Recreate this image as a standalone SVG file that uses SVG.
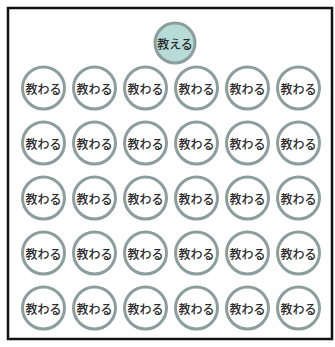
<svg xmlns="http://www.w3.org/2000/svg" width="335" height="347" viewBox="0 0 335 347">
<style>
.c{fill:#ffffff;stroke:#8b9d9c;stroke-width:3}
.t .c{fill:#b7dcd8}
text{font-family:"Noto Sans CJK JP","Noto Sans CJK SC",sans-serif;font-size:12px;font-weight:500;fill:#2a2a2a;text-anchor:middle;dominant-baseline:central}
</style>
<rect x="0" y="0" width="335" height="347" fill="#fff"/>
<rect x="8" y="8" width="324" height="331" fill="#fff" stroke="#111" stroke-width="2.5"/>
<g id="teacher" class="t"><circle class="c" cx="175" cy="43" r="20"/><text x="175" y="43">教える</text></g>
<g id="connectors"/>
<g id="r1c1"><circle class="c" cx="43.5" cy="88" r="21"/><text x="43.5" y="88">教わる</text></g>
<g id="r1c2"><circle class="c" cx="94.5" cy="88" r="21"/><text x="94.5" y="88">教わる</text></g>
<g id="r1c3"><circle class="c" cx="145.5" cy="88" r="21"/><text x="145.5" y="88">教わる</text></g>
<g id="r1c4"><circle class="c" cx="196.5" cy="88" r="21"/><text x="196.5" y="88">教わる</text></g>
<g id="r1c5"><circle class="c" cx="247.5" cy="88" r="21"/><text x="247.5" y="88">教わる</text></g>
<g id="r1c6"><circle class="c" cx="298.5" cy="88" r="21"/><text x="298.5" y="88">教わる</text></g>
<g id="r2c1"><circle class="c" cx="43.5" cy="143" r="21"/><text x="43.5" y="143">教わる</text></g>
<g id="r2c2"><circle class="c" cx="94.5" cy="143" r="21"/><text x="94.5" y="143">教わる</text></g>
<g id="r2c3"><circle class="c" cx="145.5" cy="143" r="21"/><text x="145.5" y="143">教わる</text></g>
<g id="r2c4"><circle class="c" cx="196.5" cy="143" r="21"/><text x="196.5" y="143">教わる</text></g>
<g id="r2c5"><circle class="c" cx="247.5" cy="143" r="21"/><text x="247.5" y="143">教わる</text></g>
<g id="r2c6"><circle class="c" cx="298.5" cy="143" r="21"/><text x="298.5" y="143">教わる</text></g>
<g id="r3c1"><circle class="c" cx="43.5" cy="198" r="21"/><text x="43.5" y="198">教わる</text></g>
<g id="r3c2"><circle class="c" cx="94.5" cy="198" r="21"/><text x="94.5" y="198">教わる</text></g>
<g id="r3c3"><circle class="c" cx="145.5" cy="198" r="21"/><text x="145.5" y="198">教わる</text></g>
<g id="r3c4"><circle class="c" cx="196.5" cy="198" r="21"/><text x="196.5" y="198">教わる</text></g>
<g id="r3c5"><circle class="c" cx="247.5" cy="198" r="21"/><text x="247.5" y="198">教わる</text></g>
<g id="r3c6"><circle class="c" cx="298.5" cy="198" r="21"/><text x="298.5" y="198">教わる</text></g>
<g id="r4c1"><circle class="c" cx="43.5" cy="253" r="21"/><text x="43.5" y="253">教わる</text></g>
<g id="r4c2"><circle class="c" cx="94.5" cy="253" r="21"/><text x="94.5" y="253">教わる</text></g>
<g id="r4c3"><circle class="c" cx="145.5" cy="253" r="21"/><text x="145.5" y="253">教わる</text></g>
<g id="r4c4"><circle class="c" cx="196.5" cy="253" r="21"/><text x="196.5" y="253">教わる</text></g>
<g id="r4c5"><circle class="c" cx="247.5" cy="253" r="21"/><text x="247.5" y="253">教わる</text></g>
<g id="r4c6"><circle class="c" cx="298.5" cy="253" r="21"/><text x="298.5" y="253">教わる</text></g>
<g id="r5c1"><circle class="c" cx="43.5" cy="308" r="21"/><text x="43.5" y="308">教わる</text></g>
<g id="r5c2"><circle class="c" cx="94.5" cy="308" r="21"/><text x="94.5" y="308">教わる</text></g>
<g id="r5c3"><circle class="c" cx="145.5" cy="308" r="21"/><text x="145.5" y="308">教わる</text></g>
<g id="r5c4"><circle class="c" cx="196.5" cy="308" r="21"/><text x="196.5" y="308">教わる</text></g>
<g id="r5c5"><circle class="c" cx="247.5" cy="308" r="21"/><text x="247.5" y="308">教わる</text></g>
<g id="r5c6"><circle class="c" cx="298.5" cy="308" r="21"/><text x="298.5" y="308">教わる</text></g>
</svg>
